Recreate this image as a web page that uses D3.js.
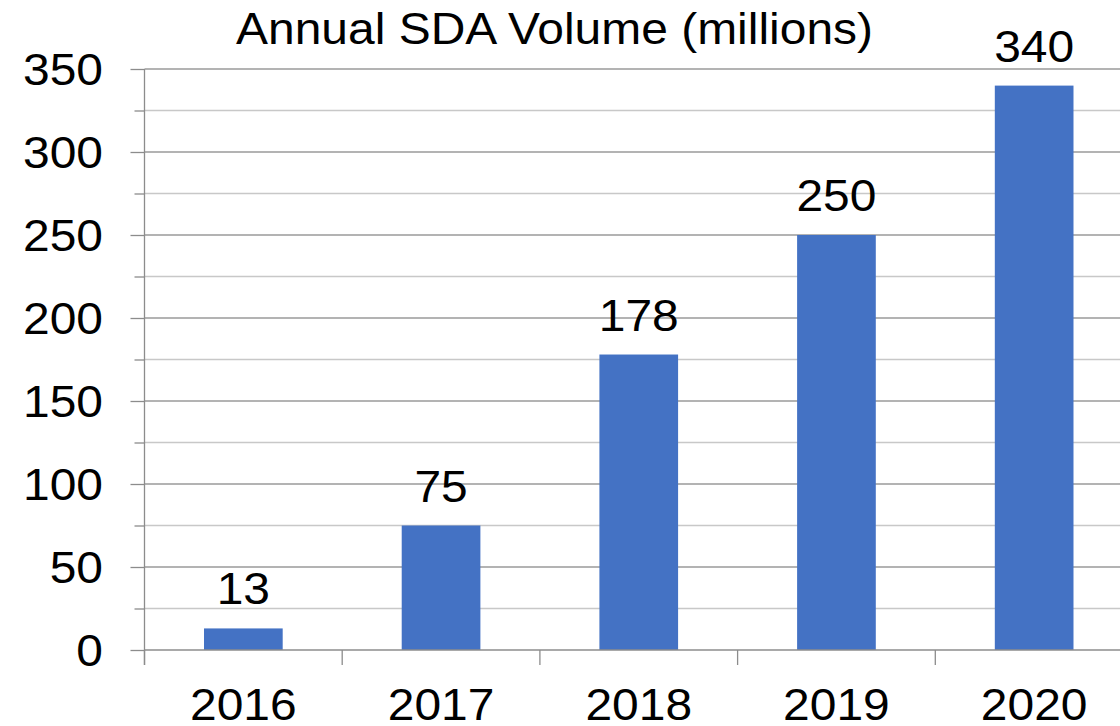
<!DOCTYPE html>
<html lang="en">
<head>
<meta charset="UTF-8">
<title>Annual SDA Volume</title>
<script src="https://d3js.org/d3.v7.min.js"></script>
<style>
  body { margin: 0; background: #fff; }
  text { font-family: "Liberation Sans", Arial, sans-serif; fill: #000; }
</style>
</head>
<body>
<script>
const years = ["2016", "2017", "2018", "2019", "2020"];
const volumes = [13, 75, 178, 250, 340];
const yTicks = [0, 50, 100, 150, 200, 250, 300, 350];
const yMinorTicks = [25, 75, 125, 175, 225, 275, 325];
const title = "Annual SDA Volume (millions)";

const w = 1120, h = 726;
const plotLeft = 144.5, plotTop = 69, plotBottom = 650;
const step = 197.7;
const fontSize = 44, stretch = 1.09;   // glyphs in the picture are a bit wide

const svg = d3.select("body").append("svg")
  .attr("width", w).attr("height", h);

const x = d3.scaleBand()
  .domain(years)
  .range([plotLeft, plotLeft + step * years.length])
  .paddingInner(0.602)
  .paddingOuter(0.301);

const y = d3.scaleLinear()
  .domain([0, 350])
  .range([plotBottom, plotTop]);

// draws a horizontally stretched text at (px, py)
function label(g, str, px, py, anchor) {
  g.append("g")
    .attr("transform", `translate(${px},${py}) scale(${stretch},1)`)
    .append("text")
    .attr("text-anchor", anchor)
    .style("font-size", fontSize + "px")
    .text(str);
}

// minor gridlines
svg.append("g")
  .attr("transform", `translate(${plotLeft},0)`)
  .call(d3.axisLeft(y).tickValues(yMinorTicks).tickSize(10).tickFormat(""))
  .call(g => g.select(".domain").remove())
  .call(g => g.selectAll(".tick line").attr("stroke", "#8c8c8c").attr("stroke-width", 1.3));
svg.append("g")
  .selectAll("line").data(yMinorTicks).join("line")
  .attr("x1", plotLeft).attr("x2", w)
  .attr("y1", d => y(d)).attr("y2", d => y(d))
  .attr("stroke", "#c8c8c8").attr("stroke-width", 1.3);

// major gridlines
svg.append("g")
  .attr("transform", `translate(${plotLeft},0)`)
  .call(d3.axisLeft(y).tickValues(yTicks).tickSize(14).tickFormat(""))
  .call(g => g.select(".domain").remove())
  .call(g => g.selectAll(".tick line").attr("stroke", "#8c8c8c").attr("stroke-width", 1.3));
svg.append("g")
  .selectAll("line").data(yTicks.filter(d => d > 0)).join("line")
  .attr("x1", plotLeft).attr("x2", w)
  .attr("y1", d => y(d)).attr("y2", d => y(d))
  .attr("stroke", "#9a9a9a").attr("stroke-width", 1.3);

// bars
svg.append("g")
  .selectAll("rect").data(volumes).join("rect")
  .attr("x", (d, i) => x(years[i]))
  .attr("y", d => y(d))
  .attr("width", x.bandwidth())
  .attr("height", d => y(0) - y(d))
  .attr("fill", "#4472c4");

// x axis with ticks at band edges
const xEdges = d3.range(years.length + 1).map(i => plotLeft + i * step);
svg.append("line")
  .attr("x1", plotLeft).attr("x2", w)
  .attr("y1", y(0)).attr("y2", y(0))
  .attr("stroke", "#8c8c8c").attr("stroke-width", 1.3);
svg.append("g")
  .selectAll("line").data(xEdges).join("line")
  .attr("x1", d => d).attr("x2", d => d)
  .attr("y1", y(0)).attr("y2", y(0) + 15)
  .attr("stroke", "#8c8c8c").attr("stroke-width", 1.3);

// y axis line
svg.append("line")
  .attr("x1", plotLeft).attr("x2", plotLeft)
  .attr("y1", y(350)).attr("y2", y(0) + 15)
  .attr("stroke", "#8c8c8c").attr("stroke-width", 1.3);

// tick labels
const labels = svg.append("g");
yTicks.forEach(t => label(labels, t, 103, y(t) + 16, "end"));
years.forEach(yr => label(labels, yr, x(yr) + x.bandwidth() / 2, 720, "middle"));

// data labels
volumes.forEach((v, i) => label(labels, v, x(years[i]) + x.bandwidth() / 2, y(v) - 24, "middle"));

// title
label(labels, title, 554.5, 44, "middle");
</script>
</body>
</html>
